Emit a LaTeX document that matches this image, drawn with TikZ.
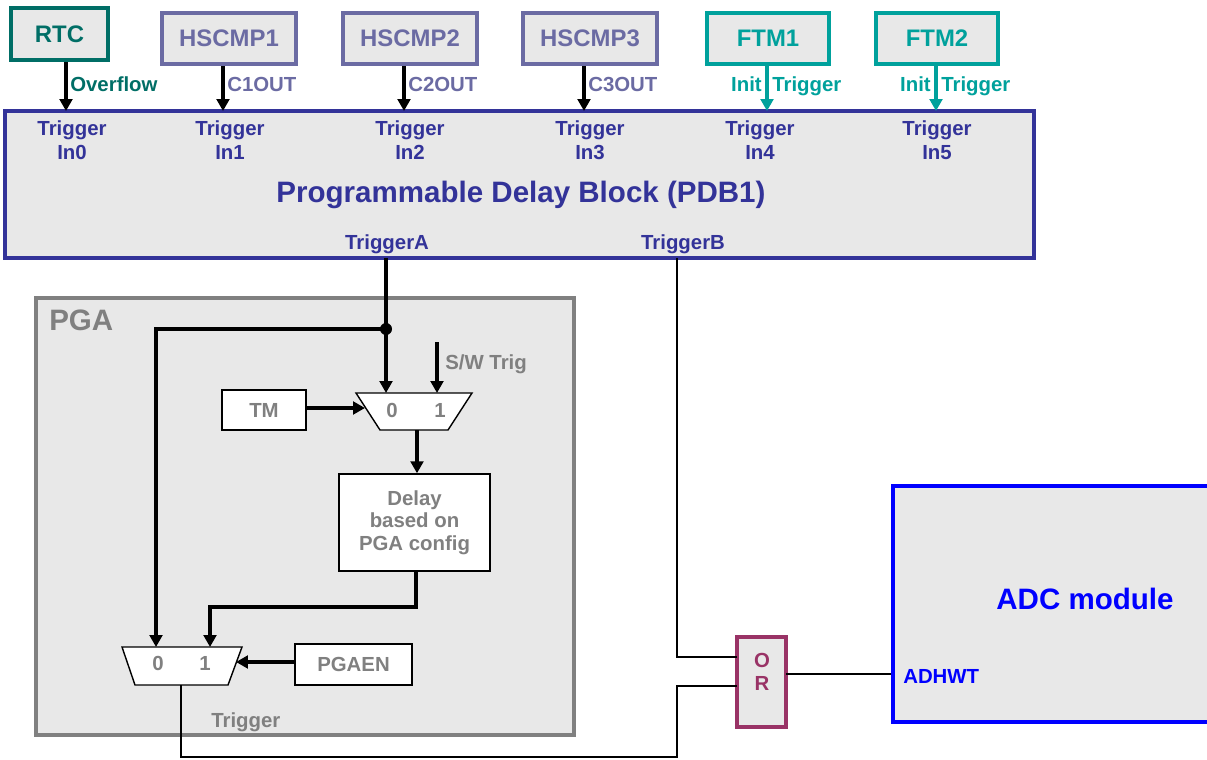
\documentclass[tikz,border=0pt]{standalone}
\usepackage{fontspec}
\setmainfont{Liberation Sans}
\usetikzlibrary{arrows.meta}

\definecolor{panel}{HTML}{E8E8E8}
\definecolor{rtcteal}{HTML}{006E66}
\definecolor{cmpviolet}{HTML}{6B6BA3}
\definecolor{ftmteal}{HTML}{00A19C}
\definecolor{pdbblue}{HTML}{333399}
\definecolor{pgagray}{HTML}{808080}
\definecolor{orplum}{HTML}{993366}
\definecolor{adcblue}{HTML}{0000FF}

\newcommand\labelfont{\fontsize{14.5}{17.7}\selectfont\bfseries}
\newcommand\namefont{\fontsize{17}{20}\selectfont\bfseries}
\newcommand\titlefont{\fontsize{21}{25}\selectfont\bfseries}

\begin{document}
\begin{tikzpicture}[x=0.025cm,y=-0.025cm,
  >={Triangle[length=8.5pt,width=9pt]},
  panelbox/.style={draw, fill=panel, line width=2.8pt, inner sep=0pt},
  srcbox/.style={panelbox, font=\namefont},
  whitebox/.style={draw, fill=white, line width=1pt, inner sep=0pt, text=pgagray, font=\labelfont},
  sig/.style={line width=2.6pt, ->},
  inner/.style={line width=2.2pt, ->},
  wire/.style={line width=1.8pt},
  txt/.style={inner sep=0pt, font=\labelfont},
]
\clip (0,0) rectangle (1207,760);

% ---------- trigger sources ----------
\node[srcbox, draw=rtcteal, text=rtcteal, minimum width=2.425cm, minimum height=1.3cm] (rtc) at (59.5,34) {RTC};
\node[srcbox, draw=cmpviolet, text=cmpviolet, minimum width=3.35cm, minimum height=1.275cm] (cmp1) at (229,38.5) {HSCMP1};
\node[srcbox, draw=cmpviolet, text=cmpviolet, minimum width=3.35cm, minimum height=1.275cm] (cmp2) at (410,38.5) {HSCMP2};
\node[srcbox, draw=cmpviolet, text=cmpviolet, minimum width=3.35cm, minimum height=1.275cm] (cmp3) at (590,38.5) {HSCMP3};
\node[srcbox, draw=ftmteal, text=ftmteal, minimum width=3.05cm, minimum height=1.275cm] (ftm1) at (768,38.5) {FTM1};
\node[srcbox, draw=ftmteal, text=ftmteal, minimum width=3.05cm, minimum height=1.275cm] (ftm2) at (937,38.5) {FTM2};

% ---------- PDB ----------
\node[panelbox, draw=pdbblue, minimum width=25.725cm, minimum height=3.675cm] (pdb) at (519.5,184.5) {};
\coordinate (in0) at (66,111);
\coordinate (in1) at (223,111);
\coordinate (in2) at (404,111);
\coordinate (in3) at (584,111);
\coordinate (in4) at (767,111);
\coordinate (in5) at (936,111);
\coordinate (ta) at (386,258);
\coordinate (tb) at (677,258);

% two-line labels: the base anchor sits on the second line
\begin{scope}[every node/.style={txt, text=pdbblue, align=center, anchor=base}]
  \node (lin0) at (72,160) {Trigger\\In0};
  \node (lin1) at (230,160) {Trigger\\In1};
  \node (lin2) at (410,160) {Trigger\\In2};
  \node (lin3) at (590,160) {Trigger\\In3};
  \node (lin4) at (760,160) {Trigger\\In4};
  \node (lin5) at (937,160) {Trigger\\In5};
  \node (lta) at (387,250) {TriggerA};
  \node (ltb) at (683,250) {TriggerB};
  \node[font=\titlefont] (pdbtitle) at (521,203) {Programmable Delay Block (PDB1)};
\end{scope}

% source -> PDB
\draw[sig] (rtc.south -| in0) -- (in0);
\draw[sig] (cmp1.south -| in1) -- (in1);
\draw[sig] (cmp2.south -| in2) -- (in2);
\draw[sig] (cmp3.south -| in3) -- (in3);
\draw[sig, ftmteal, line width=2.2pt] (ftm1.south -| in4) -- (in4);
\draw[sig, ftmteal, line width=2.2pt] (ftm2.south -| in5) -- (in5);

\begin{scope}[every node/.style={txt, anchor=base west}]
  \node[text=rtcteal] (lovf) at (70,92) {Overflow};
  \node[text=cmpviolet] (lc1) at (227,92) {C1OUT};
  \node[text=cmpviolet] (lc2) at (408,92) {C2OUT};
  \node[text=cmpviolet] (lc3) at (588,92) {C3OUT};
  \node[text=ftmteal, anchor=base east] (linit1) at (762,92) {Init};
  \node[text=ftmteal] (ltrg1) at (772,92) {Trigger};
  \node[text=ftmteal, anchor=base east] (linit2) at (931,92) {Init};
  \node[text=ftmteal] (ltrg2) at (941,92) {Trigger};
\end{scope}

% ---------- PGA ----------
\node[panelbox, draw=pgagray, minimum width=13.45cm, minimum height=10.925cm] (pga) at (305,516.5) {};
\node[txt, font=\titlefont, text=pgagray, anchor=base west] (pgalbl) at (49,330) {PGA};

\node[whitebox, minimum width=2.1cm, minimum height=1.0cm] (tm) at (264,410) {TM};
\node[whitebox, minimum width=3.775cm, minimum height=2.425cm, align=center,
      font=\fontsize{14.5}{16}\selectfont\bfseries] (delay) at (414.5,522.5) {Delay\\based on\\PGA config};
\node[whitebox, minimum width=2.925cm, minimum height=1.025cm] (pgaen) at (353.5,664.5) {PGAEN};

% multiplexers
\draw[fill=white, line width=1pt] (356,393) -- (472,393) -- (448,430) -- (380,430) -- cycle;
\draw[fill=white, line width=1pt] (122,647) -- (242,647) -- (228,685) -- (135,685) -- cycle;
\coordinate (m1in0) at (386,393);
\coordinate (m1in1) at (437,393);
\coordinate (m1left) at (365,408);
\coordinate (m1out) at (417,430);
\coordinate (m2in0) at (156,647);
\coordinate (m2in1) at (210,647);
\coordinate (m2right) at (236,662);
\coordinate (m2out) at (181,685);

\begin{scope}[every node/.style={txt, text=pgagray, anchor=base}]
  \node (m1z) at (392,417) {0};
  \node (m1o) at (440,417) {1};
  \node (m2z) at (158,670) {0};
  \node (m2o) at (205,670) {1};
  \node[anchor=base west] (lsw) at (445,369) {S/W Trig};
  \node[anchor=base west] (ltrig) at (211,727) {Trigger};
\end{scope}

% PGA internal connections
\coordinate (jn) at (386,329);
\coordinate (sw) at (437,342);
\coordinate (dly) at (416,607);
\draw[inner] (ta) -- (jn) -- (m1in0);
\draw[inner] (jn) -| (m2in0);
\fill (jn) circle (6);
\draw[inner] (sw) -- (m1in1);
\draw[inner] (tm.east |- m1left) -- (m1left);
\draw[inner, line width=3pt] (m1out) -- (delay.north -| m1out);
\draw[inner] (delay.south -| dly) -- (dly) -| (m2in1);
\draw[inner] (pgaen.west |- m2right) -- (m2right);

% ---------- OR gate and ADC ----------
\node[draw=orplum, line width=2.8pt, fill=panel, minimum width=1.225cm, minimum height=2.25cm, inner sep=0pt] (orgate) at (761.5,682) {};
\node[txt, text=orplum, align=center, anchor=base, font=\fontsize{14.5}{16.3}\selectfont\bfseries] (orlbl) at (762,690) {O\\R};
\node[panelbox, draw=adcblue, minimum width=8.175cm, minimum height=5.9cm] (adc) at (1056.5,604) {};
\node[txt, font=\titlefont, text=adcblue, anchor=base] (adclbl) at (1085,609) {ADC module};
\node[txt, text=adcblue, anchor=base west] (adhwt) at (903,683) {ADHWT};

\coordinate (orin1) at (737,657);
\coordinate (orin2) at (737,686);
\coordinate (orout) at (786,674);
\coordinate (low) at (677,757);
\draw[wire] (tb) |- (orin1);
\draw[wire] (m2out) |- (low) |- (orin2);
\draw[wire] (orout) -- (adc.west |- orout);
\end{tikzpicture}
\end{document}
